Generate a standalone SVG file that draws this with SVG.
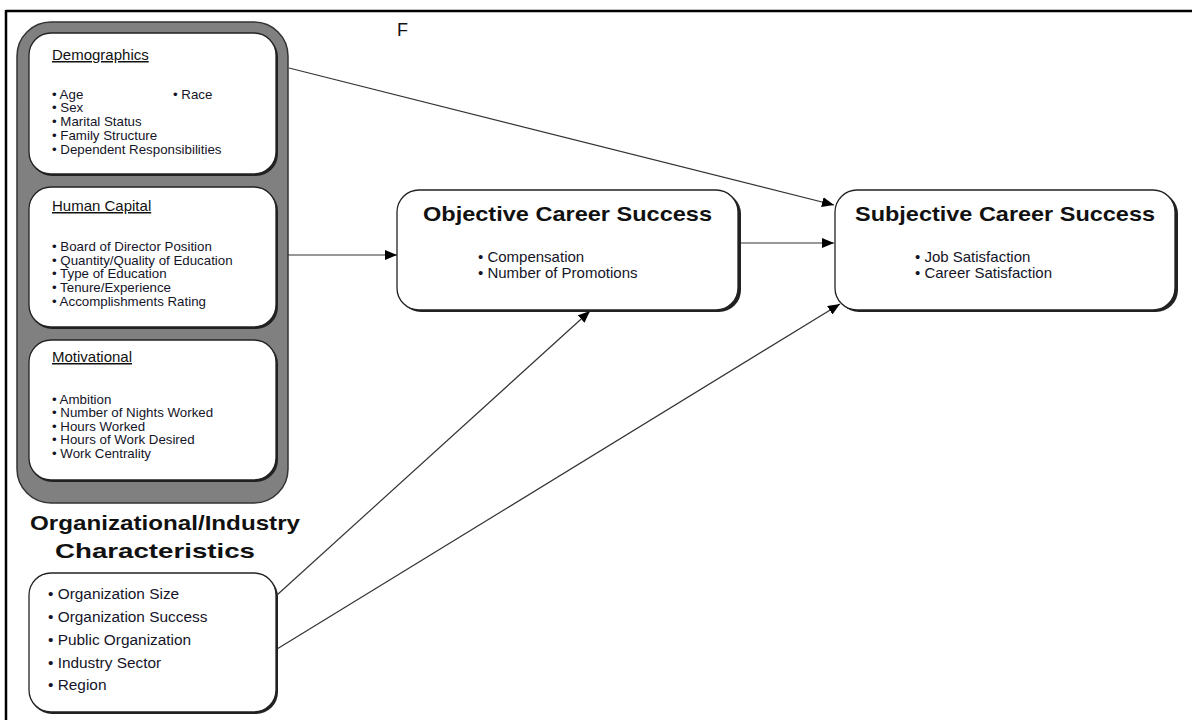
<svg xmlns="http://www.w3.org/2000/svg" width="1192" height="720" viewBox="0 0 1192 720">
<style>
text{font-family:"Liberation Sans",Arial,sans-serif;fill:#111}
.it{font-size:13.3px;fill:#141428}
.hd{font-size:15px;text-decoration:underline}
.big{font-size:21px;font-weight:bold}
.mid{font-size:15px;fill:#141428}
.org{font-size:15.4px;fill:#141428}
.box{fill:#fff;stroke:#222;stroke-width:1.3}
.sh{fill:#222}
.cn{stroke:#333;stroke-width:1.2;fill:none;marker-end:url(#ah)}
</style>
<defs>
<marker id="ah" viewBox="0 0 12 10" refX="12" refY="5" markerWidth="12" markerHeight="10" markerUnits="userSpaceOnUse" orient="auto">
<path d="M0,0 L12,5 L0,10 Z" fill="#000"/>
</marker>
</defs>
<rect width="1192" height="720" fill="#fff"/>
<g id="frame">
<line x1="6" y1="11" x2="1192" y2="11" stroke="#000" stroke-width="2.5"/>
<line x1="6" y1="10" x2="6" y2="720" stroke="#000" stroke-width="2.5"/>
<text x="397" y="36" style="font-size:18px">F</text>
</g>
<g id="individual">
<rect x="17" y="22" width="271" height="481" rx="34" fill="#808080" stroke="#333" stroke-width="1.5"/>
</g>
<g id="demographics">
<rect class="sh" x="30" y="35" width="248" height="141" rx="22"/>
<rect class="box" x="29" y="33" width="247" height="141" rx="22"/>
<text class="hd" x="52" y="60">Demographics</text>
<text class="it" x="52" y="99">• Age</text>
<text class="it" x="173" y="99">• Race</text>
<text class="it" x="52" y="112">• Sex</text>
<text class="it" x="52" y="126">• Marital Status</text>
<text class="it" x="52" y="140">• Family Structure</text>
<text class="it" x="52" y="154">• Dependent Responsibilities</text>
</g>
<g id="human-capital">
<rect class="sh" x="30" y="189" width="248" height="140" rx="22"/>
<rect class="box" x="29" y="187" width="247" height="140" rx="22"/>
<text class="hd" x="52" y="211">Human Capital</text>
<text class="it" x="52" y="251">• Board of Director Position</text>
<text class="it" x="52" y="265">• Quantity/Quality of Education</text>
<text class="it" x="52" y="278">• Type of Education</text>
<text class="it" x="52" y="292">• Tenure/Experience</text>
<text class="it" x="52" y="306">• Accomplishments Rating</text>
</g>
<g id="motivational">
<rect class="sh" x="30" y="342" width="248" height="140" rx="22"/>
<rect class="box" x="29" y="340" width="247" height="140" rx="22"/>
<text class="hd" x="52" y="362">Motivational</text>
<text class="it" x="52" y="404">• Ambition</text>
<text class="it" x="52" y="417">• Number of Nights Worked</text>
<text class="it" x="52" y="431">• Hours Worked</text>
<text class="it" x="52" y="444">• Hours of Work Desired</text>
<text class="it" x="52" y="458">• Work Centrality</text>
</g>
<g id="organizational">
<text class="big" x="30" y="530" textLength="270" lengthAdjust="spacingAndGlyphs">Organizational/Industry</text>
<text class="big" x="55" y="558" textLength="200" lengthAdjust="spacingAndGlyphs">Characteristics</text>
<rect class="sh" x="30" y="575" width="248" height="139" rx="22"/>
<rect class="box" x="29" y="573" width="247" height="139" rx="22"/>
<text class="org" x="48" y="599">• Organization Size</text>
<text class="org" x="48" y="622">• Organization Success</text>
<text class="org" x="48" y="645">• Public Organization</text>
<text class="org" x="48" y="668">• Industry Sector</text>
<text class="org" x="48" y="690">• Region</text>
</g>
<g id="objective">
<rect class="sh" x="399" y="192" width="342" height="120" rx="22"/>
<rect class="box" x="397" y="190" width="341" height="120" rx="22"/>
<text class="big" x="423" y="221" textLength="289" lengthAdjust="spacingAndGlyphs">Objective Career Success</text>
<text class="mid" x="478" y="262">• Compensation</text>
<text class="mid" x="478" y="278">• Number of Promotions</text>
</g>
<g id="subjective">
<rect class="sh" x="837" y="192" width="341" height="120" rx="22"/>
<rect class="box" x="835" y="190" width="340" height="120" rx="22"/>
<text class="big" x="855" y="221" textLength="300" lengthAdjust="spacingAndGlyphs">Subjective Career Success</text>
<text class="mid" x="915" y="262">• Job Satisfaction</text>
<text class="mid" x="915" y="278">• Career Satisfaction</text>
</g>
<g id="connectors">
<line class="cn" x1="289" y1="68" x2="834" y2="205"/>
<line class="cn" x1="288" y1="255" x2="397" y2="255"/>
<line class="cn" x1="741" y1="243" x2="834" y2="243"/>
<line class="cn" x1="277" y1="595" x2="590" y2="311"/>
<line class="cn" x1="277" y1="649" x2="840" y2="304"/>
</g>
</svg>
